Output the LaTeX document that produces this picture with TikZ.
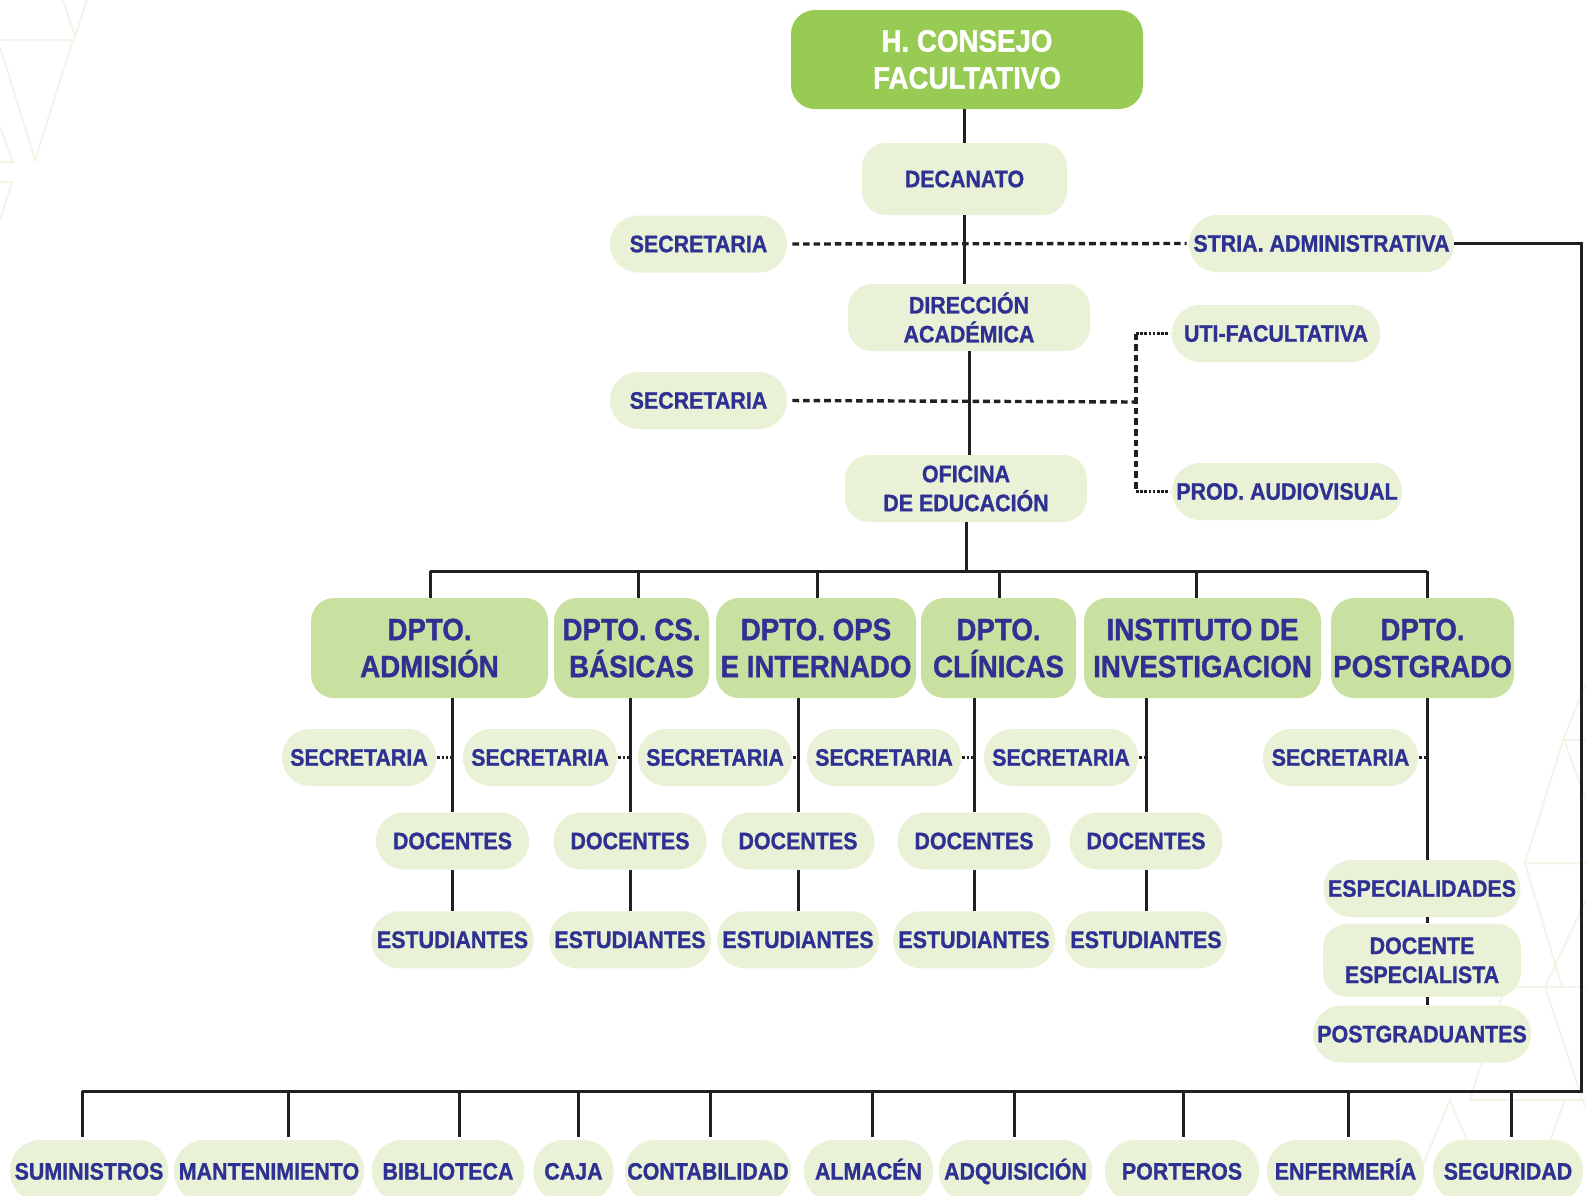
\documentclass[tikz,border=0pt]{standalone}
\usepackage{fontspec}
\setmainfont{Liberation Sans}[FakeStretch=0.9, BoldFeatures={FakeBold=1.1}]
\usetikzlibrary{positioning, calc}

\definecolor{orgblue}{RGB}{46,49,146}
\definecolor{topgreen}{RGB}{152,203,83}
\definecolor{dptgreen}{RGB}{201,225,160}
\definecolor{unitgreen}{RGB}{233,242,215}
\definecolor{faintgreen}{RGB}{240,247,232}
\definecolor{linegray}{RGB}{35,31,32}

\tikzset{
  link/.style={line width=1.5pt, draw=linegray},
  dashlink/.style={line width=1.7pt, draw=linegray, dash pattern=on 3.3pt off 2pt},
  dotlink/.style={line width=1.8pt, draw=linegray, dash pattern=on 1.3pt off 0.8pt},
  topbox/.style={fill=topgreen, rounded corners=12pt, text=white, align=center, inner sep=0pt,
    font=\bfseries\fontsize{15.4}{18.5}\selectfont},
  dpt/.style={fill=dptgreen, rounded corners=11.5pt, text=orgblue, align=center, inner sep=0pt,
    minimum height=50pt, minimum width=#1, font=\bfseries\fontsize{15.4}{18.5}\selectfont},
  unit/.style={fill=unitgreen, rounded corners=14pt, text=orgblue, align=center, inner sep=0pt,
    minimum height=28.5pt, minimum width=#1, font=\bfseries\fontsize{11.9}{14.5}\selectfont},
  tallunit/.style={unit=#1, minimum height=33.5pt, rounded corners=12pt},
  service/.style={unit=#1, minimum height=31pt, rounded corners=15pt, text height=8.6pt, text depth=0pt},
}

\begin{document}
\begin{tikzpicture}[x=0.5pt, y=-0.5pt]
  \clip (0,0) rectangle (1586,1195);
  % faint background triangles
  \begin{scope}[draw=faintgreen, line width=1pt]
    \draw (63,0) -- (75,37) -- (87,0);
    \draw (0,40) -- (73,40) -- (35,160) -- (0,47);
    \draw (0,127) -- (13,162) -- (0,162);
    \draw (0,182) -- (12,182) -- (0,220);
    \draw (1586,683) -- (1563,740) -- (1586,740);
    \draw (1565,743) -- (1586,800);
    \draw (1563,740) -- (1525,863) -- (1586,863);
    \draw (1525,863) -- (1562,987);
    \draw (1586,900) -- (1545,987);
    \draw (1505,987) -- (1586,987);
    \draw (1505,987) -- (1470,1100) -- (1586,1100);
    \draw (1545,987) -- (1586,1110);
    \draw (1410,1195) -- (1450,1100) -- (1490,1195);
    \draw (1530,1195) -- (1565,1100);
  \end{scope}

  % top of the chart
  \node[topbox, minimum width=176pt, minimum height=49.5pt] (consejo) at (967,59.5) {H. CONSEJO\\FACULTATIVO};
  \node[unit=102.5pt, minimum height=36pt, rounded corners=12pt] (decanato) at (964.5,179) {DECANATO};
  \node[unit=88.5pt] (sec1) at (698.5,244) {SECRETARIA};
  \node[unit=132.5pt] (stria) at (1321.5,243.5) {STRIA. ADMINISTRATIVA};
  \node[tallunit=121pt] (direccion) at (969,317.5) {DIRECCIÓN\\ACADÉMICA};
  \node[unit=88.5pt] (sec2) at (698.5,400.5) {SECRETARIA};
  \node[unit=104pt] (uti) at (1276,333.5) {UTI-FACULTATIVA};
  \node[unit=115pt] (prod) at (1287,491.5) {PROD. AUDIOVISUAL};
  \node[tallunit=121pt] (oficina) at (966,488.5) {OFICINA\\DE EDUCACIÓN};

  \draw[link] (consejo.south -| decanato) -- (decanato.north);
  \draw[link] (decanato.south) -- (decanato.south |- direccion.north);
  \draw[link] (direccion.south) -- (direccion.south |- oficina.north);
  \draw[dashlink, shorten <=2.5pt, shorten >=1pt] (sec1.east) -- (stria.west);
  \coordinate (brk) at (1136,402);
  \draw[dashlink, shorten <=2.5pt] (sec2.east) -- (brk);
  \draw[dashlink] (brk |- uti) -- (brk |- prod);
  \draw[dotlink, shorten >=1pt] (brk |- uti) -- (uti.west);
  \draw[dotlink, shorten >=1pt] (brk |- prod) -- (prod.west);

  % departments
  \node[dpt=118.5pt] (adm) at (429.5,648) {DPTO.\\ADMISIÓN};
  \node[dpt=77.5pt] (csb) at (631.5,648) {DPTO. CS.\\BÁSICAS};
  \node[dpt=100pt] (ops) at (816,648) {DPTO. OPS\\E INTERNADO};
  \node[dpt=77.5pt] (cli) at (998.5,648) {DPTO.\\CLÍNICAS};
  \node[dpt=118.5pt] (inst) at (1202.5,648) {INSTITUTO DE\\INVESTIGACION};
  \node[dpt=91.5pt] (post) at (1422.5,648) {DPTO.\\POSTGRADO};

  \coordinate (bus) at (964,571);
  \draw[link] (oficina.south) -- (oficina.south |- bus);
  \draw[link] ($(bus -| adm)+(0.5,0)$) -- ($(bus -| post)+(4.5,0)$);
  \foreach \d/\dx in {adm/0.5,csb/6.5,ops/1,cli/0.5,inst/-6.5,post/4.5}
    \draw[link] ($(bus -| \d)+(\dx,0)$) -- ($(\d.north)+(\dx,0)$);

  % secretarias, docentes and estudiantes
  \node[unit=77pt] (s1) at (359,757.5) {SECRETARIA};
  \node[unit=77pt] (s2) at (540,757.5) {SECRETARIA};
  \node[unit=77pt] (s3) at (715,757.5) {SECRETARIA};
  \node[unit=77pt] (s4) at (884,757.5) {SECRETARIA};
  \node[unit=77pt] (s5) at (1061,757.5) {SECRETARIA};
  \node[unit=77.5pt] (s6) at (1340.5,757.5) {SECRETARIA};

  \node[unit=76.5pt] (doc1) at (452.5,841) {DOCENTES};
  \node[unit=76.5pt] (doc2) at (630,841) {DOCENTES};
  \node[unit=76.5pt] (doc3) at (798,841) {DOCENTES};
  \node[unit=76.5pt] (doc4) at (974,841) {DOCENTES};
  \node[unit=76.5pt] (doc5) at (1146,841) {DOCENTES};
  \foreach \i in {1,...,5}
    \node[unit=81pt, below=20.5pt of doc\i] (est\i) {ESTUDIANTES};

  \draw[link] (adm.south -| doc1) -- (doc1.north);
  \draw[link] (csb.south -| doc2) -- (doc2.north);
  \draw[link] (ops.south -| doc3) -- (doc3.north);
  \draw[link] (cli.south -| doc4) -- (doc4.north);
  \draw[link] (inst.south -| doc5) -- (doc5.north);
  \foreach \i in {1,...,5}{
    \draw[link] (doc\i.south) -- (est\i.north);
    \draw[dotlink, shorten <=0.5pt] (s\i.east) -- (s\i.east -| doc\i);
  }

  % postgrado
  \node[unit=98.5pt] (espec) at (1422,888.5) {ESPECIALIDADES};
  \node[tallunit=99pt, minimum height=36.5pt, below=3pt of espec] (docesp) {DOCENTE\\ESPECIALISTA};
  \node[unit=109pt, below=4pt of docesp] (postgrad) {POSTGRADUANTES};
  \draw[link] ($(post.south)+(4.5,0)$) -- ($(espec.north)+(5,0)$);
  \draw[link] ($(espec.south)+(5,0)$) -- ($(docesp.north)+(5,0)$);
  \draw[link] ($(docesp.south)+(5,0)$) -- ($(postgrad.north)+(5,0)$);
  \draw[dotlink, shorten <=0.5pt] (s6.east) -- ($(s6.east -| espec)+(5,0)$);

  % servicios
  \node[service=79pt] (sum) at (89,1171) {SUMINISTROS};
  \node[service=95pt] (man) at (269,1171) {MANTENIMIENTO};
  \node[service=76pt] (bib) at (448,1171) {BIBLIOTECA};
  \node[service=40pt] (caja) at (573.5,1171) {CAJA};
  \node[service=83pt] (cont) at (708,1171) {CONTABILIDAD};
  \node[service=64.5pt] (alm) at (868.5,1171) {ALMACÉN};
  \node[service=76.5pt] (adq) at (1015.5,1171) {ADQUISICIÓN};
  \node[service=77pt] (por) at (1182,1171) {PORTEROS};
  \node[service=78.5pt] (enf) at (1345.5,1171) {ENFERMERÍA};
  \node[service=75pt] (seg) at (1508,1171) {SEGURIDAD};

  \coordinate (lowbus) at (1581,1091);
  \draw[link] (stria.east) -- (stria.east -| lowbus) -- (lowbus) -- ($(lowbus -| sum)+(-7,0)$);
  \foreach \n/\dx in {sum/-7,man/19,bib/11,caja/4.5,cont/2,alm/3.5,adq/-1.5,por/1,enf/2.5,seg/3}
    \draw[link, shorten >=1.5pt] ($(lowbus -| \n)+(\dx,0)$) -- ($(\n.north)+(\dx,0)$);
\end{tikzpicture}
\end{document}
